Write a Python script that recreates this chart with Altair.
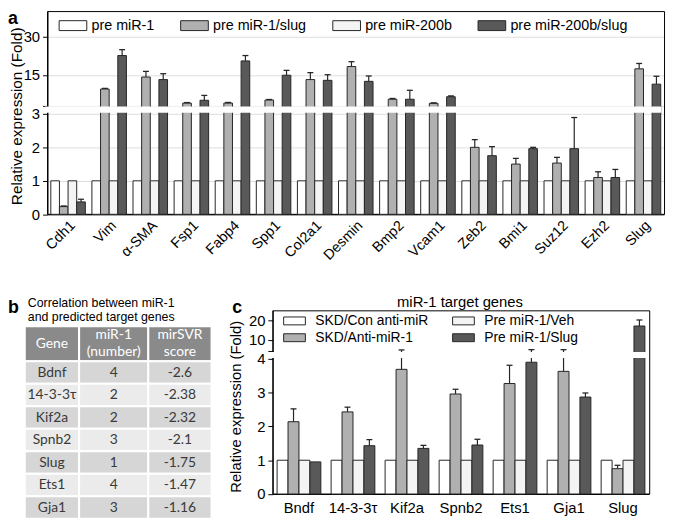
import altair as alt
import pandas as pd

# ---------------- panel a data ----------------
genes_a = ["Cdh1", "Vim", "α-SMA", "Fsp1", "Fabp4", "Spp1", "Col2a1", "Desmin",
           "Bmp2", "Vcam1", "Zeb2", "Bmi1", "Suz12", "Ezh2", "Slug"]
series_a = ["pre miR-1", "pre miR-1/slug", "pre miR-200b", "pre miR-200b/slug"]
colors_a = ["#ffffff", "#b0b0b0", "#f4f4f4", "#595959"]
a_mir1 = [1, 1, 1, 1, 1, 1, 1, 1, 1, 1, 1, 1, 1, 1, 1]
a_mir1_err = [0, 0, 0, 0, 0, 0, 0, 0, 0, 0, 0, 0, 0, 0, 0]
a_mir1_slug = [0.23, 9.5, 14.2, 4.0, 4.0, 5.2, 13.2, 18.3, 5.5, 3.9, 2.0, 1.5, 1.53, 1.1, 17.4]
a_mir1_slug_err = [0.02, 0.25, 2.2, 0.2, 0.25, 0.2, 2.7, 1.9, 0.3, 0.2, 0.23, 0.17, 0.17, 0.17, 2.1]
a_mir200b = [1, 1, 1, 1, 1, 1, 1, 1, 1, 1, 1, 1, 1, 1, 1]
a_mir200b_err = [0, 0, 0, 0, 0, 0, 0, 0, 0, 0, 0, 0, 0, 0, 0]
a_mir200b_slug = [0.37, 22.6, 13.2, 5.1, 20.5, 14.9, 12.9, 12.5, 5.5, 6.5, 1.75, 1.96, 1.96, 1.1, 11.4]
a_mir200b_slug_err = [0.08, 2.3, 2.3, 1.9, 2.1, 1.9, 2.2, 2.1, 3.5, 0.3, 0.27, 0.04, 0.93, 0.24, 3.1]
a_ticks = [0, 1, 2, 3, 3.0001, 15, 30]

# ---------------- panel c data ----------------
genes_c = ["Bndf", "14-3-3τ", "Kif2a", "Spnb2", "Ets1", "Gja1", "Slug"]
series_c = ["SKD/Con anti-miR", "SKD/Anti-miR-1", "Pre miR-1/Veh", "Pre miR-1/Slug"]
legend_order_c = ["SKD/Con anti-miR", "Pre miR-1/Veh", "SKD/Anti-miR-1", "Pre miR-1/Slug"]
colors_c = ["#ffffff", "#f4f4f4", "#b0b0b0", "#595959"]
c_con = [1, 1, 1, 1, 1, 1, 1]
c_con_err = [0, 0, 0, 0, 0, 0, 0]
c_anti = [2.14, 2.43, 3.69, 2.96, 3.27, 3.63, 0.75]
c_anti_err = [0.38, 0.14, 0.85, 0.14, 0.54, 1.05, 0.1]
c_veh = [1, 1, 1, 1, 1, 1, 1]
c_veh_err = [0, 0, 0, 0, 0, 0, 0]
c_slug = [0.95, 1.43, 1.35, 1.45, 3.9, 2.87, 17.2]
c_slug_err = [0, 0.18, 0.09, 0.17, 0.8, 0.12, 3.2]
c_ticks = [0, 1, 2, 3, 4, 4.0001, 10, 20]

# ---------------- panel b table ----------------
tbl_header = ["Gene", "miR-1\n(number)", "mirSVR\nscore"]
tbl_genes = ["Bdnf", "14-3-3τ", "Kif2a", "Spnb2", "Slug", "Ets1", "Gja1"]
tbl_mir1 = ["4", "2", "2", "3", "1", "4", "3"]
tbl_score = ["-2.6", "-2.38", "-2.32", "-2.1", "-1.75", "-1.47", "-1.16"]

FONT = "Liberation Sans"
TFONT = "Lato"
W, H = 667, 514

# layout (view pixels)
A_L, A_R, A_T, A_B = 40, 664, 0.5, 205.7
A_LO3, A_HI3 = 104.0, 95.7
C_L, C_R, C_T, C_B = 268, 649, 302.9, 488.8
C_LO4, C_HI4 = 352.0, 344.0


def long_df(genes, series, vals, errs):
    rows = []
    for s, v, e in zip(series, vals, errs):
        for g, vv, ee in zip(genes, v, e):
            rows.append({"gene": g, "series": s, "value": vv, "err": ee, "top": vv + ee})
    return pd.DataFrame(rows)


df_a = long_df(genes_a, series_a, [a_mir1, a_mir1_slug, a_mir200b, a_mir200b_slug],
               [a_mir1_err, a_mir1_slug_err, a_mir200b_err, a_mir200b_slug_err])
df_c = long_df(genes_c, series_c, [c_con, c_anti, c_veh, c_slug],
               [c_con_err, c_anti_err, c_veh_err, c_slug_err])
one = pd.DataFrame({"k": [0]})

STROKE = "#262626"

# ---------------- panel a ----------------
xa = alt.Scale(domain=genes_a, range=[A_L, A_R], paddingInner=0.16, paddingOuter=0.08)
xoa = alt.Scale(domain=series_a, paddingInner=0, paddingOuter=0)
ya = alt.Scale(domain=[0, 3, 3.0001, 40], range=[A_B, A_LO3, A_HI3, 0], nice=False, zero=False)

frame_a = alt.Chart(one).mark_rect(filled=False, color="black", strokeWidth=1).encode(
    x=alt.value(A_L), x2=alt.value(A_R + 0.5), y=alt.value(A_T), y2=alt.value(A_B))

bars_a = alt.Chart(df_a).mark_bar(stroke=STROKE, strokeWidth=1).encode(
    x=alt.X("gene:N", scale=xa, axis=alt.Axis(
        orient="bottom", offset=-(H - A_B), labelAngle=-45, ticks=False, title=None,
        labelFont=FONT, labelFontSize=14.5, labelColor="black", domainColor="black",
        labelPadding=4)),
    xOffset=alt.XOffset("series:N", scale=xoa),
    y=alt.Y("value:Q", scale=ya, axis=alt.Axis(
        orient="left", offset=-A_L, values=a_ticks, format="d",
        labelExpr="datum.value > 3 && datum.value < 3.5 ? '' : datum.label",
        labelOverlap=False, labelFont=FONT, labelFontSize=15, labelColor="black",
        tickColor="black", tickSize=5, domainColor="black", labelPadding=3,
        title="Relative expression (Fold)", titleFont=FONT, titleFontSize=15.5,
        titleFontWeight="normal", titleColor="black", titleX=-31, titleY=106,
        titleAngle=-90, titleAlign="center", titleBaseline="middle")),
    fill=alt.Fill("series:N", scale=alt.Scale(domain=series_a, range=colors_a), legend=alt.Legend(
        orient="none", legendX=58.5, legendY=7.1, direction="horizontal", columns=4,
        title=None, symbolType="M-3.5,-1.25H3.5V1.25H-3.5Z", symbolSize=64,
        symbolStrokeColor=STROKE, symbolStrokeWidth=1, symbolOpacity=1,
        labelFont=FONT, labelFontSize=14.5, labelColor="black", labelOffset=11.5,
        columnPadding=24, padding=0)),
)

err_a = alt.Chart(df_a).transform_filter("datum.err > 0").mark_rule(
    color=STROKE, strokeWidth=1.2).encode(
    x=alt.X("gene:N", scale=xa), xOffset=alt.XOffset("series:N", scale=xoa),
    y=alt.Y("value:Q", scale=ya), y2="top:Q")
cap_a = alt.Chart(df_a).transform_filter("datum.err > 0").mark_tick(
    orient="horizontal", size=6, thickness=1.3, color=STROKE, opacity=1).encode(
    x=alt.X("gene:N", scale=xa), xOffset=alt.XOffset("series:N", scale=xoa),
    y=alt.Y("top:Q", scale=ya))
band_a = alt.Chart(one).mark_rect(fill="white", stroke=None).encode(
    x=alt.value(A_L - 3), x2=alt.value(A_R - 3),
    y=alt.Y(datum=3.000012, scale=ya), y2=alt.Y2(datum=3.000088))

panel_a = alt.layer(frame_a, bars_a, err_a, cap_a, band_a)

# ---------------- panel c ----------------
xc = alt.Scale(domain=genes_c, range=[C_L, C_R], paddingInner=0.19, paddingOuter=0.08)
xoc = alt.Scale(domain=series_c, paddingInner=0, paddingOuter=0)
yc = alt.Scale(domain=[0, 4, 4.0001, 25.5], range=[C_B, C_LO4, C_HI4, C_T], nice=False, zero=False)

frame_c = alt.Chart(one).mark_rect(filled=False, color="black", strokeWidth=1).encode(
    x=alt.value(C_L), x2=alt.value(C_R + 0.5), y=alt.value(C_T + 0.5), y2=alt.value(C_B))

bars_c = alt.Chart(df_c).mark_bar(stroke=STROKE, strokeWidth=1).encode(
    x=alt.X("gene:N", scale=xc, axis=alt.Axis(
        orient="bottom", offset=-(H - C_B), labelAngle=0, ticks=False, title=None,
        labelFont=FONT, labelFontSize=15, labelColor="black", domainColor="black",
        labelPadding=7)),
    xOffset=alt.XOffset("series:N", scale=xoc),
    y=alt.Y("value:Q", scale=yc, axis=alt.Axis(
        orient="left", offset=-C_L, values=c_ticks, format="d",
        labelExpr="datum.value > 4 && datum.value < 4.5 ? '' : datum.label",
        labelOverlap=False, labelFont=FONT, labelFontSize=15, labelColor="black",
        tickColor="black", tickSize=5, domainColor="black", labelPadding=3,
        title="Relative expression (Fold)", titleFont=FONT, titleFontSize=15,
        titleFontWeight="normal", titleColor="black", titleX=-37.5, titleY=400,
        titleAngle=-90, titleAlign="center", titleBaseline="middle")),
    fill=alt.Fill("series:N", scale=alt.Scale(domain=legend_order_c, range=colors_c), legend=alt.Legend(
        orient="none", legendX=283, legendY=306.6, direction="horizontal", columns=2,
        title=None, symbolType="M-2.75,-1H2.75V1H-2.75Z", symbolSize=64,
        symbolStrokeColor=STROKE, symbolStrokeWidth=1, symbolOpacity=1,
        labelFont=FONT, labelFontSize=14, labelColor="black", labelOffset=14,
        columnPadding=22, rowPadding=3, padding=0)),
)
err_c = alt.Chart(df_c).transform_filter("datum.err > 0").mark_rule(
    color=STROKE, strokeWidth=1.2).encode(
    x=alt.X("gene:N", scale=xc), xOffset=alt.XOffset("series:N", scale=xoc),
    y=alt.Y("value:Q", scale=yc), y2="top:Q")
cap_c = alt.Chart(df_c).transform_filter("datum.err > 0").mark_tick(
    orient="horizontal", size=6, thickness=1.3, color=STROKE, opacity=1).encode(
    x=alt.X("gene:N", scale=xc), xOffset=alt.XOffset("series:N", scale=xoc),
    y=alt.Y("top:Q", scale=yc))
band_c = alt.Chart(one).mark_rect(fill="white", stroke=None).encode(
    x=alt.value(C_L - 3), x2=alt.value(C_R - 3),
    y=alt.Y(datum=4.000012, scale=yc), y2=alt.Y2(datum=4.000088))

panel_c = alt.layer(frame_c, bars_c, err_c, cap_c, band_c)

# ---------------- panel b ----------------
cells = []
for ci, h in enumerate(tbl_header):
    cells.append({"c": ci, "r": 0, "txt": h, "kind": "header",
                  "lines": h.count("\n") + 1})
for ri, (g, m, s) in enumerate(zip(tbl_genes, tbl_mir1, tbl_score)):
    kind = "dark" if ri % 2 == 0 else "light"
    for ci, t in enumerate([g, m, s]):
        cells.append({"c": ci, "r": ri + 1, "txt": t, "kind": kind, "lines": 1})
df_t = pd.DataFrame(cells)
df_t["c1"] = df_t["c"] + 1
df_t["r1"] = df_t["r"] + 1
df_t["cm"] = df_t["c"] + 0.5
df_t["rm"] = df_t["r"] + 0.5

xt = alt.Scale(domain=[0, 1, 2, 3], range=[17, 72, 142, 206], nice=False, zero=False)
yt = alt.Scale(domain=[0, 1, 8], range=[319, 354.5, 513.9], nice=False, zero=False)

cells_t = alt.Chart(df_t).mark_rect(stroke="white", strokeWidth=2).encode(
    x=alt.X("c:Q", scale=xt, axis=None), x2="c1:Q",
    y=alt.Y("r:Q", scale=yt, axis=None), y2="r1:Q",
    fill=alt.Fill("kind:N", scale=alt.Scale(domain=["header", "dark", "light"],
                                            range=["#8a8a8a", "#d6d6d6", "#ebebeb"]), legend=None))
head1_t = alt.Chart(df_t).transform_filter("datum.kind == 'header' && datum.lines == 1").mark_text(
    font=TFONT, fontSize=14, color="white", align="center", baseline="middle").encode(
    x=alt.X("cm:Q", scale=xt, axis=None), y=alt.Y("rm:Q", scale=yt, axis=None), text="txt:N")
head2_t = alt.Chart(df_t).transform_filter("datum.kind == 'header' && datum.lines == 2").mark_text(
    font=TFONT, fontSize=14, color="white", lineBreak="\n", lineHeight=17, dy=-8.5,
    align="center", baseline="middle").encode(
    x=alt.X("cm:Q", scale=xt, axis=None), y=alt.Y("rm:Q", scale=yt, axis=None), text="txt:N")
body_t = alt.Chart(df_t).transform_filter("datum.kind != 'header'").mark_text(
    font=TFONT, fontSize=14, color="#3a3a3a", align="center", baseline="middle").encode(
    x=alt.X("cm:Q", scale=xt, axis=None), y=alt.Y("rm:Q", scale=yt, axis=None), text="txt:N")

table_b = alt.layer(cells_t, head1_t, head2_t, body_t)

# ---------------- annotations ----------------
def label(txt, x, y, size=19, weight="bold", align="left", baseline="alphabetic"):
    return alt.Chart(one).mark_text(text=txt, font=FONT, fontSize=size, fontWeight=weight,
                                    align=align, baseline=baseline, color="black").encode(
        x=alt.value(x), y=alt.value(y))

ann = [
    label("a", 0, 13, size=18),
    label("b", 0, 306, size=18),
    label("c", 227, 306, size=18),
    label("Correlation between miR-1", 20, 295.5, size=12.5, weight="normal", baseline="middle"),
    label("and predicted target genes", 20, 310, size=12.5, weight="normal", baseline="middle"),
    label("miR-1 target genes", 457.5, 295, size=15, weight="normal", align="center",
          baseline="middle"),
]

chart = alt.layer(panel_a, panel_c, table_b, *ann).resolve_scale(
    x="independent", y="independent", xOffset="independent", fill="independent"
).properties(
    width=W, height=H, padding=0, autosize=alt.AutoSizeParams(type="none")
).configure_view(strokeWidth=0)

chart.save("out.html", embed_options={"renderer": "svg", "actions": False})
